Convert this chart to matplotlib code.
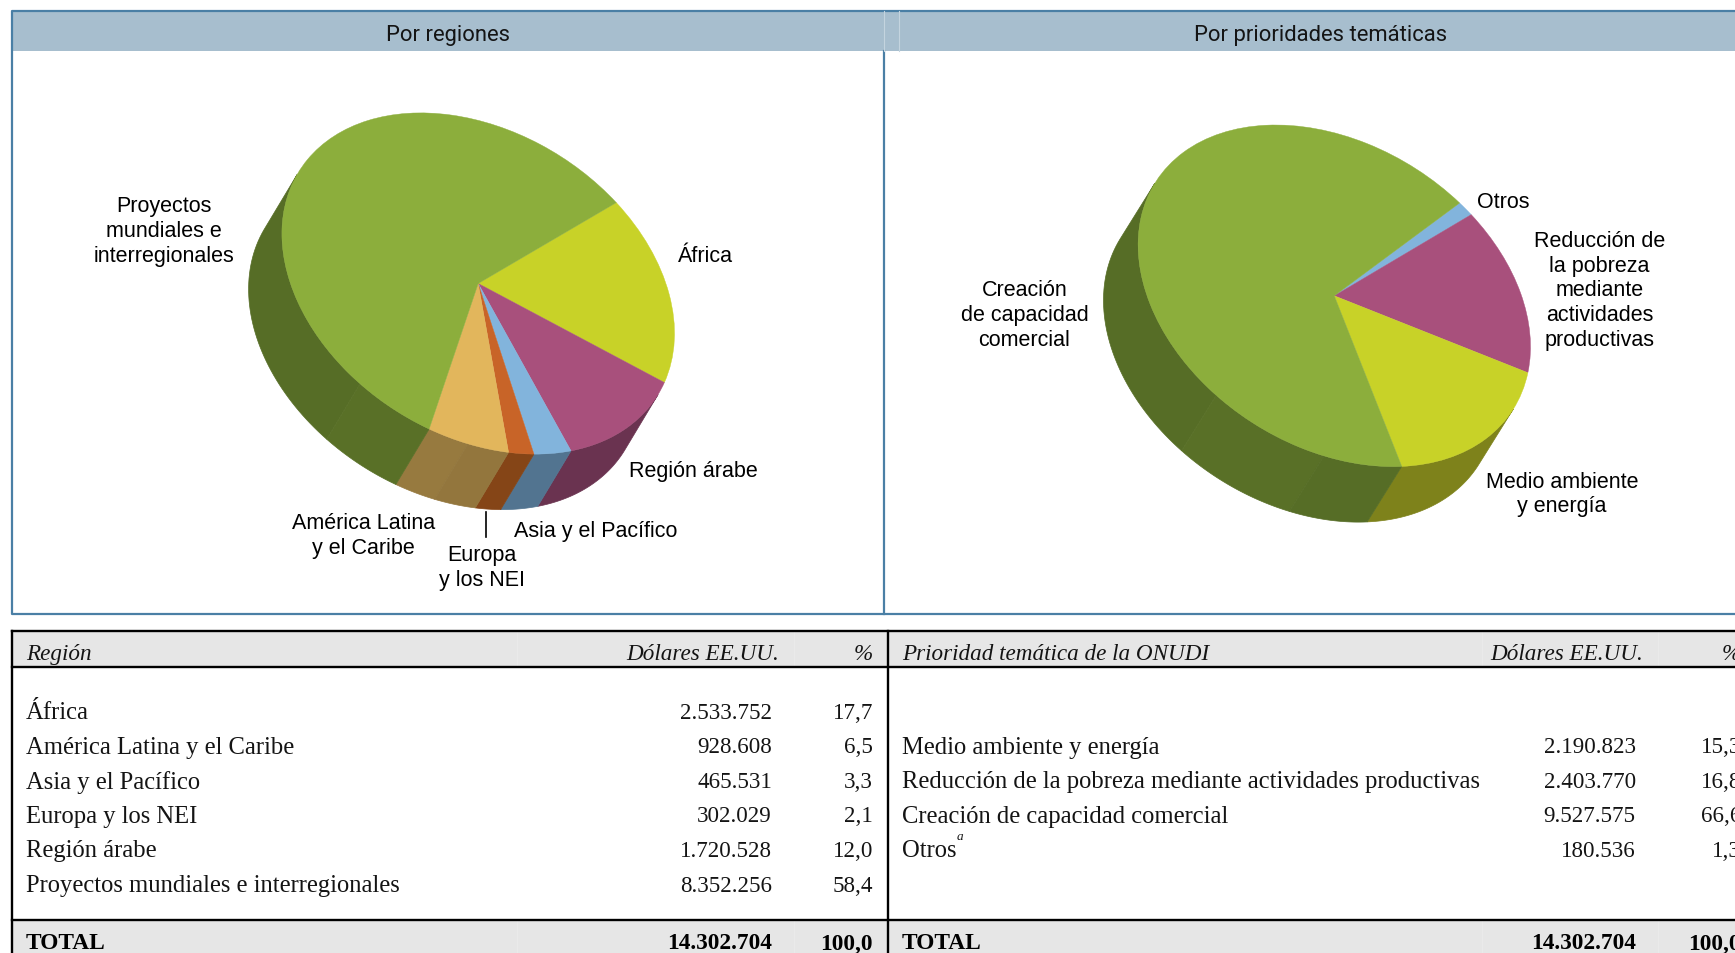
import numpy as np
import matplotlib
matplotlib.use('Agg')
import matplotlib.pyplot as plt
from matplotlib.transforms import Affine2D
from matplotlib.colors import to_rgb

# Table data
regions = ['África', 'América Latina y el Caribe', 'Asia y el Pacífico', 'Europa y los NEI',
           'Región árabe', 'Proyectos mundiales e interregionales']
region_usd = [2533752, 928608, 465531, 302029, 1720528, 8352256]
region_pct = ['17,7', '6,5', '3,3', '2,1', '12,0', '58,4']

themes = ['Medio ambiente y energía', 'Reducción de la pobreza mediante actividades productivas',
          'Creación de capacidad comercial', 'Otros']
theme_usd = [2190823, 2403770, 9527575, 180536]
theme_pct = ['15,3', '16,8', '66,6', '1,3']

total_usd = 14302704

# Slices in drawing order, clockwise from the start angle
region_slices = [2533752, 1720528, 465531, 302029, 928608, 8352256]
region_colors = ['#C8D228', '#A8507C', '#82B4DC', '#C86428', '#E2B65C', '#8CAE3C']
region_sides = ['#7E821B', '#6A3350', '#527490', '#854517', '#93763D', '#566D26']

# magenta and yellow are drawn the other way round from the table in the original
theme_slices = [180536, 2190823, 2403770, 9527575]
theme_colors = ['#82B4DC', '#A8507C', '#C8D228', '#8CAE3C']
theme_sides = ['#527490', '#6A3350', '#7E821B', '#566D26']

BORDER = '#4A7FA5'
HEADER = '#A7BECE'
GREY = '#E6E6E6'
SANS = 'Liberation Sans'
SERIF = 'Liberation Serif'
INK = '#141414'

fig = plt.figure(figsize=(17.35, 9.54), dpi=100)
ax = fig.add_axes([0, 0, 1, 1])


def pie_3d(cx, cy, xr, yr, top_dx, depth, start, slices, colors, sides):
    # tilted pie: unit circle pushed through an affine map, in pixel coordinates
    m10 = top_dx * yr / xr
    m11 = np.sqrt(yr ** 2 - m10 ** 2)
    wedges, _ = ax.pie(slices, colors=colors, startangle=start, counterclock=False,
                       wedgeprops=dict(linewidth=0.3, zorder=3))
    tr = Affine2D.from_values(xr, -m10, 0, -m11, cx, cy)
    for w in wedges:
        w.set_edgecolor(w.get_facecolor())
        w.set_transform(tr + ax.transData)

    # which part of the rim faces the viewer
    ux = depth[0] / xr
    uy = (-depth[1] - m10 * ux) / m11
    face = np.degrees(np.arctan2(uy, ux))

    for w, col in zip(wedges, sides):
        for lo, hi, shade in [(-360, -127, 1.0), (-127, -93, 1.03), (-93, 90, 1.0)]:
            a = max(w.theta1, lo)
            b = min(w.theta2, hi)
            if b <= a:
                continue
            t = np.linspace(a, b, 120)
            t = t[np.abs((t - face + 180) % 360 - 180) < 90]
            if len(t) < 2:
                continue
            r = np.radians(t)
            x = cx + xr * np.cos(r)
            y = cy - (m10 * np.cos(r) + m11 * np.sin(r))
            rgb = np.clip(np.array(to_rgb(col)) * shade, 0, 1)
            ax.fill(np.r_[x, x[::-1] + depth[0]], np.r_[y, y[::-1] + depth[1]],
                    color=rgb, lw=0.5, zorder=2)


pie_3d(478.2, 284.5, 196.3, 170.6, -57.4, (-33.3, 55.5), 45.3,
       region_slices, region_colors, region_sides)
pie_3d(1334.3, 296.8, 196.2, 170.8, -58.6, (-34.6, 55.5), 50.3,
       theme_slices, theme_colors, theme_sides)

# pie() changes the limits, go back to pixels
ax.set_aspect('auto')
ax.set_xlim(0, 1735)
ax.set_ylim(954, 0)
ax.axis('off')

# Chart panels
ax.fill_between([12, 1735], 12, 52, color=HEADER, lw=0, zorder=1)
ax.plot([1735, 12, 12, 1735], [12, 12, 615, 615], color=BORDER, lw=1.6, zorder=4)
ax.plot([884, 884], [52, 615], color=BORDER, lw=1.6, zorder=4)
ax.plot([884, 884], [12, 52], color='#C4D4DF', lw=0.8, zorder=4)
ax.plot([899, 899], [12, 52], color='#C4D4DF', lw=0.8, zorder=4)
ax.text(448, 35.5, 'Por regiones', family='Roboto', fontsize=15.8, color=INK,
        ha='center', va='center', zorder=5)
ax.text(1321, 35.5, 'Por prioridades temáticas', family='Roboto', fontsize=15.8, color=INK,
        ha='center', va='center', zorder=5)

# Pie labels
labels = [
    (163.6, 231.5, 'Proyectos\nmundiales e\ninterregionales'),
    (705, 256, 'África'),
    (693, 472, 'Región árabe'),
    (363.5, 536, 'América Latina\ny el Caribe'),
    (595.5, 532, 'Asia y el Pacífico'),
    (481.5, 568, 'Europa\ny los NEI'),
    (1503.5, 202, 'Otros'),
    (1599.4, 291, 'Reducción de\nla pobreza\nmediante\nactividades\nproductivas'),
    (1024.5, 315.5, 'Creación\nde capacidad\ncomercial'),
    (1562, 494.5, 'Medio ambiente\ny energía'),
]
for x, y, s in labels:
    ax.text(x, y, s, family=SANS, fontsize=15.5, color='black', ha='center', va='center',
            linespacing=1.22, zorder=5)
ax.plot([485.6, 485.6], [512.6, 537.5], color='black', lw=1.2, zorder=5)

# Tables
ax.fill_between([12, 1735], 632, 668, color=GREY, lw=0, zorder=1)
ax.fill_between([12, 1735], 921, 954, color=GREY, lw=0, zorder=1)
for xl in [517, 794, 1482, 1658]:
    ax.plot([xl, xl], [633, 667], color='#EAEAEA', lw=0.8, zorder=1.5)
    ax.plot([xl, xl], [922, 954], color='#EAEAEA', lw=0.8, zorder=1.5)
for yl in [632, 668, 921]:
    ax.plot([12, 1735], [yl, yl], color='black', lw=1.7, zorder=4)
ax.plot([12, 12], [632, 954], color='black', lw=1.7, zorder=4)
ax.plot([887.5, 887.5], [632, 954], color='black', lw=1.7, zorder=4)

row_y = [713.5, 748, 782.5, 817, 851.5, 886.5]
HEAD_Y = 654.5
TOTAL_Y = 944
FS_TXT = 17.7
FS_NUM = 16.6


def usd(v):
    return f'{v:,}'.replace(',', '.')


def table(x_label, x_usd, x_head, x_pct, title, names, values, pcts, rows):
    ax.text(x_label, HEAD_Y, title, family=SERIF, style='italic', fontsize=16.7, color=INK, va='center', zorder=5)
    ax.text(x_head, HEAD_Y, 'Dólares EE.UU.', family=SERIF, style='italic', fontsize=16.7, color=INK,
            ha='right', va='center', zorder=5)
    ax.text(x_pct, HEAD_Y, '%', family=SERIF, style='italic', fontsize=16.7, color=INK,
            ha='right', va='center', zorder=5)
    for y, n, v, p in zip(rows, names, values, pcts):
        ax.text(x_label, y, n, family=SERIF, fontsize=FS_TXT, color=INK, va='center', zorder=5)
        ax.text(x_usd, y, usd(v), family=SERIF, fontsize=FS_NUM, color=INK, ha='right', va='center', zorder=5)
        ax.text(x_pct, y, p, family=SERIF, fontsize=FS_NUM, color=INK, ha='right', va='center', zorder=5)
    ax.text(x_label, TOTAL_Y, 'TOTAL', family=SERIF, weight='bold', fontsize=16.8, va='center', zorder=5)
    ax.text(x_usd, TOTAL_Y, usd(total_usd), family=SERIF, weight='bold', fontsize=16.8,
            ha='right', va='center', zorder=5)
    ax.text(x_pct, TOTAL_Y, '100,0', family=SERIF, weight='bold', fontsize=16.8,
            ha='right', va='center', zorder=5)


table(26, 772, 779.5, 873, 'Región', regions, region_usd, region_pct, row_y)
table(902, 1635.7, 1643, 1741, 'Prioridad temática de la ONUDI', themes, theme_usd, theme_pct, row_y[1:5])
ax.text(957, 837, 'a', family=SERIF, style='italic', fontsize=9.5, color=INK, va='center', zorder=5)

fig.savefig('out.png', dpi=100)
plt.close()
